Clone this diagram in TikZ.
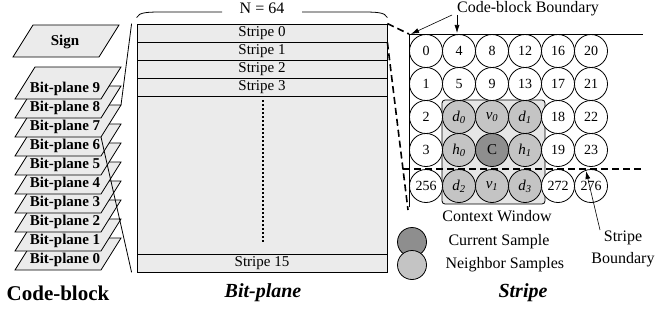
\documentclass[tikz,border=0pt]{standalone}
\usepackage{fontspec}
\setmainfont{Liberation Serif}
\usetikzlibrary{arrows.meta,calc}
\definecolor{plane}{HTML}{EBEBEB}
\definecolor{window}{HTML}{E6E6E6}
\definecolor{nbr}{HTML}{C4C4C4}
\definecolor{cur}{HTML}{8E8E8E}
\tikzset{
  edge/.style={line width=0.8pt, draw=black},
  planebox/.style={edge, fill=plane},
  stripebox/.style={rectangle, edge, fill=plane, minimum width=250pt, minimum height=18pt, inner sep=0pt, font=\fontsize{15}{17}\selectfont},
  cell/.style={circle, edge, fill=white, minimum size=33pt, inner sep=0pt, font=\fontsize{14}{16}\selectfont},
  nbcell/.style={cell, fill=nbr, font=\fontsize{15}{17}\selectfont\itshape},
  curcell/.style={cell, fill=cur, font=\fontsize{15}{17}\selectfont},
  dashln/.style={line width=1.6pt, dash pattern=on 7pt off 4pt},
  ptr/.style={line width=0.6pt, -{Latex[length=8pt,width=5pt]}},
  lab/.style={font=\fontsize{16}{22}\selectfont},
  labb/.style={font=\fontsize{15}{17}\selectfont\bfseries},
  title/.style={font=\fontsize{21}{24}\selectfont\bfseries},
  titlei/.style={font=\fontsize{20}{24}\selectfont\bfseries\itshape}
}

\begin{document}
\begin{tikzpicture}[x=1pt,y=-1pt]
  \useasboundingbox (0,0) rectangle (660,321);

  % code-block: sign plane and bit-planes
  \draw[planebox] (33,25) -- (119,25) -- (99,57) -- (13,57) -- cycle;
  \node[labb] (sign) at (65,42) {Sign};
  \foreach \k in {0,...,9} {
    \pgfmathsetmacro\ytop{67+(9-\k)*19}
    \draw[planebox] (35,\ytop) -- (121,\ytop) -- (101,\ytop+32) -- (15,\ytop+32) -- cycle;
    \coordinate (p\k-tr) at (121,\ytop);
    \coordinate (p\k-br) at (101,\ytop+32);
    \node[labb] (bp\k) at (65,\ytop+22) {Bit-plane \k};
  }
  \node[title] (cbtitle) at (58,293) {Code-block};

  % bit-plane with its stripes
  \node[stripebox] (s0) at (262,33) {Stripe 0};
  \node[stripebox] (s1) at (262,51) {Stripe 1};
  \node[stripebox] (s2) at (262,69) {Stripe 2};
  \node[stripebox] (s3) at (262,87) {Stripe 3};
  \node[stripebox, minimum height=158pt] (body) at (262,175) {};
  \node[stripebox] (s15) at (262,263) {Stripe 15};
  \draw[line width=1.6pt, dash pattern=on 1.5pt off 2.5pt] (263,100) -- (263,244);
  \node[titlei] (bptitle) at (263,293) {Bit-plane};

  % brace for the width
  \node[lab] (width) at (262,8) {N = 64};
  \draw[edge] (s0.north west) ++(0,-6) .. controls (139,12) and (148,12) .. (165,12) -- (222,12);
  \draw[edge] (302,12) -- (359,12) .. controls (376,12) and (385,12) .. ($(s0.north east)+(0,-6)$);

  % lines from bit-plane 7 to the bit-plane
  \coordinate (bpTL) at ($(s0.north west)+(-5,0)$);
  \coordinate (bpBL) at ($(s15.south west)+(-5,0)$);
  \draw[edge] (p7-tr) -- (bpTL);
  \draw[edge] (p7-br) -- (bpBL);

  % stripe
  \coordinate (cb) at (409,34);
  \coordinate (cbR) at (643,34);
  \coordinate (cbB) at (409,207);
  \coordinate (dashend) at (408,210);
  \draw[dashln] (s0.north east) -- (cb);
  \draw[dashln] (s0.south east) -- (dashend);

  \draw[edge, fill=window, rounded corners=3pt] (442,100) rectangle (545,204);

  \foreach \c in {0,...,5}
    \foreach \r in {0,1} {
      \pgfmathtruncatemacro\n{4*\c+\r}
      \node[cell] (c\c\r) at (426+33*\c,51+33*\r) {\n};
    }
  \foreach \c in {0,4,5}
    \foreach \r in {2,3} {
      \pgfmathtruncatemacro\n{4*\c+\r}
      \node[cell] (c\c\r) at (426+33*\c,51+33*\r) {\n};
    }
  \node[cell] (c04) at (426,186) {256};
  \node[cell] (c44) at (558,186) {272};
  \node[cell] (c54) at (591,186) {276};

  \node[nbcell] (c12) at (459,117) {d\textsubscript{0}};
  \node[nbcell] (c22) at (492,117) {v\textsubscript{0}};
  \node[nbcell] (c32) at (525,117) {d\textsubscript{1}};
  \node[nbcell] (c13) at (459,150) {h\textsubscript{0}};
  \node[curcell] (c23) at (492,150) {C};
  \node[nbcell] (c33) at (525,150) {h\textsubscript{1}};
  \node[nbcell] (c14) at (459,186) {d\textsubscript{2}};
  \node[nbcell] (c24) at (492,186) {v\textsubscript{1}};
  \node[nbcell] (c34) at (525,186) {d\textsubscript{3}};

  \draw[edge] (cbB) -- (cb) -- (cbR);
  \coordinate (sbL) at (403,169);
  \coordinate (sbR) at (643,169);
  \draw[dashln] (sbL) -- (sbR);

  \node[lab] (cbl) at (528,9) {Code-block Boundary};
  \coordinate (cbt1) at (452,15);
  \coordinate (cbt2) at (457,15);
  \draw[ptr] (cbt1) -- ($(cb)+(2,0)$);
  \draw[ptr] (cbt2) -- (457,33);

  \node[lab] (cw) at (497,216) {Context Window};
  \node[circle, edge, fill=cur, minimum size=29pt] (legc) at (412,242) {};
  \node[circle, edge, fill=nbr, minimum size=29pt] (legn) at (412,265) {};
  \node[lab, anchor=west] (legct) at (445,242) {Current Sample};
  \node[lab, anchor=west] (legnt) at (442,265) {Neighbor Samples};

  \node[lab, align=center] (sbl) at (623,249) {Stripe\\Boundary};
  \coordinate (sbtail) at (600,230);
  \coordinate (sbhead) at (586,171);
  \draw[ptr] (sbtail) -- (sbhead);

  \node[titlei] (sttitle) at (523,293) {Stripe};
\end{tikzpicture}
\end{document}
